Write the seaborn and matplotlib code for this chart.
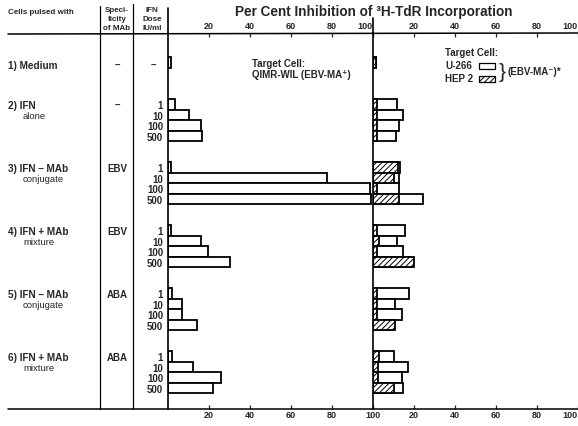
import numpy as np
import pandas as pd
import matplotlib
matplotlib.use("Agg")
import matplotlib.pyplot as plt
import matplotlib.transforms as mtransforms
from matplotlib.patches import Rectangle
from matplotlib.lines import Line2D
import seaborn as sns

# ---------------- data ----------------
group_first = ["1) Medium", "2) IFN", "3) IFN \u2013 MAb", "4) IFN + MAb", "5) IFN \u2013 MAb", "6) IFN + MAb"]
group_second = ["", "alone", "conjugate", "mixture", "conjugate", "mixture"]
specificity = ["\u2013", "\u2013", "EBV", "EBV", "ABA", "ABA"]
doses = ["1", "10", "100", "500"]

# Medium control values
medium_qimr = 1.5
medium_u266 = 1.5
medium_hep2 = 1.5

# per group (2..6), per dose (1, 10, 100, 500)
qimr_wil = [[3.4, 10.2, 16.0, 16.7],
            [1.5, 77.4, 98.5, 99.0],
            [1.5, 16.0, 19.7, 30.2],
            [1.8, 7.0, 7.0, 14.0],
            [2.1, 12.3, 25.7, 22.0]]
u266 = [[11.9, 14.8, 12.7, 11.2],
        [13.2, 12.7, 12.7, 24.5],
        [15.6, 11.5, 14.8, 19.0],
        [17.6, 10.5, 14.0, 9.0],
        [10.2, 17.2, 14.3, 14.6]]
hep2 = [[1.8, 1.8, 1.8, 1.8],
        [12.3, 10.4, 2.0, 12.8],
        [1.8, 2.9, 1.8, 20.0],
        [2.1, 2.1, 2.1, 10.7],
        [2.9, 2.4, 2.4, 10.2]]

ticks = [20, 40, 60, 80, 100]

# ------------- table -------------
rows = [{"pos": 3, "qimr": medium_qimr, "u266": medium_u266, "hep2": medium_hep2}]
for g in range(len(qimr_wil)):
    for d in range(len(doses)):
        rows.append({"pos": 7 + 6 * g + d, "qimr": qimr_wil[g][d],
                     "u266": u266[g][d], "hep2": hep2[g][d]})
df = pd.DataFrame(rows)
group_pos = [3] + [7 + 6 * g for g in range(len(qimr_wil))]

# ------------- style -------------
sns.set_style("white")
plt.rcParams["font.family"] = ["Liberation Sans", "DejaVu Sans"]
plt.rcParams["hatch.linewidth"] = 0.7

W, H = 578, 426
fig = plt.figure(figsize=(W / 100, H / 100), dpi=100)
fig.patch.set_facecolor("white")

def fx(x):
    return x / W

def fy(y):
    return 1 - y / H

ax1 = fig.add_axes([fx(168), 17 / H, 205 / W, 376 / H])
ax2 = fig.add_axes([fx(373), 17 / H, 205 / W, 376 / H])

bar_kw = dict(orient="h", native_scale=True, width=1.0, errorbar=None,
              edgecolor="black", linewidth=1.3, saturation=1)
sns.barplot(data=df, x="qimr", y="pos", color="white", ax=ax1, **bar_kw)
sns.barplot(data=df, x="u266", y="pos", color="white", ax=ax2, **bar_kw)
sns.barplot(data=df, x="hep2", y="pos", color="white", hatch="//////", ax=ax2, **bar_kw)

for ax in (ax1, ax2):
    ax.set_xlim(0, 100)
    ax.set_ylim(36.0, 0.19)
    ax.set_xlabel("")
    ax.set_ylabel("")
    ax.set_yticks([])
    ax.set_xticks(ticks)
    ax.set_xticklabels([str(t) for t in ticks])
    ax.tick_params(axis="x", top=True, bottom=True, labeltop=True, labelbottom=True,
                   direction="in", length=3, width=0.9, pad=1.5, labelsize=6.5)
    for t in ax.xaxis.get_major_ticks():
        t.label1.set_fontweight("bold")
        t.label2.set_fontweight("bold")
    for s in ("top", "bottom", "right"):
        ax.spines[s].set_visible(False)
    ax.spines["left"].set_visible(True)
    ax.spines["left"].set_linewidth(1.2)
    ax.spines["left"].set_color("black")
    ax.patch.set_alpha(0)

# top-left "100" sits left of the divider
ax1.xaxis.get_major_ticks()[-1].label2.set_horizontalalignment("right")
# right-most "100" labels kept inside the picture
last_r = ax2.xaxis.get_major_ticks()[-1]
last_r.label1.set_horizontalalignment("right")
last_r.label2.set_horizontalalignment("right")

# ------------- frame lines -------------
def fline(x0, y0, x1, y1, lw=1.1):
    fig.add_artist(Line2D([fx(x0), fx(x1)], [fy(y0), fy(y1)], color="black",
                          lw=lw, transform=fig.transFigure))

fline(8, 34, 578, 33)
fline(8, 409, 578, 409)
fline(100, 6, 100, 409, lw=0.9)
fline(133, 4, 133, 409, lw=0.9)
fline(168, 8, 168, 33, lw=1.2)
fline(373, 18, 373, 33, lw=1.2)

# ------------- texts -------------
fig.text(fx(374), fy(12), "Per Cent Inhibition of \u00b3H-TdR Incorporation",
         ha="center", va="center", fontsize=9.8, fontweight="bold")

hdr = dict(fontsize=5.8, fontweight="bold", va="center")
fig.text(fx(8), fy(12), "Cells pulsed with", ha="left", **hdr)
for i, s in enumerate(["Speci-", "ficity", "of MAb"]):
    fig.text(fx(117), fy(11 + 8.5 * i), s, ha="center", **hdr)
for i, s in enumerate(["IFN", "Dose", "IU/ml"]):
    fig.text(fx(152), fy(11 + 8.5 * i), s, ha="center", **hdr)

blend = mtransforms.blended_transform_factory(fig.transFigure, ax1.transData)
for i, p in enumerate(group_pos):
    off = 0.3 if i == 0 else 0.15
    fig.text(fx(8), p + off, group_first[i], transform=blend, ha="left", va="center",
             fontsize=7.2, fontweight="bold")
    if group_second[i]:
        fig.text(fx(23), p + 1.15, group_second[i], transform=blend, ha="left",
                 va="center", fontsize=6.8)
    fig.text(fx(117), p + off, specificity[i], transform=blend, ha="center",
             va="center", fontsize=7.0, fontweight="bold")
    if i == 0:
        fig.text(fx(153), p + off, "\u2013", transform=blend, ha="center",
                 va="center", fontsize=7.0, fontweight="bold")
    else:
        for d, lab in enumerate(doses):
            fig.text(fx(163), p + d + 0.15, lab, transform=blend, ha="right",
                     va="center", fontsize=7.0, fontweight="bold")

# left panel annotation
fig.text(fx(252), fy(64), "Target Cell:", ha="left", va="center", fontsize=7.0, fontweight="bold")
fig.text(fx(252), fy(75), "QIMR-WIL (EBV-MA\u207a)", ha="left", va="center",
         fontsize=7.0, fontweight="bold")

# right panel legend
fig.text(fx(445), fy(53), "Target Cell:", ha="left", va="center", fontsize=7.0, fontweight="bold")
fig.text(fx(445), fy(66), "U-266", ha="left", va="center", fontsize=7.0, fontweight="bold")
fig.text(fx(445), fy(79), "HEP 2", ha="left", va="center", fontsize=7.0, fontweight="bold")
fig.add_artist(Rectangle((fx(479), fy(69)), 16 / W, 6 / H, transform=fig.transFigure,
                         facecolor="white", edgecolor="black", lw=0.9))
fig.add_artist(Rectangle((fx(479), fy(82)), 16 / W, 6 / H, transform=fig.transFigure,
                         facecolor="white", edgecolor="black", lw=0.9, hatch="//////"))
fig.text(fx(502), fy(72), "}", ha="center", va="center", fontsize=15)
fig.text(fx(508), fy(72), "(EBV-MA\u207b)*", ha="left", va="center", fontsize=7.0,
         fontweight="bold")

fig.savefig("out.png", dpi=100, facecolor="white")
